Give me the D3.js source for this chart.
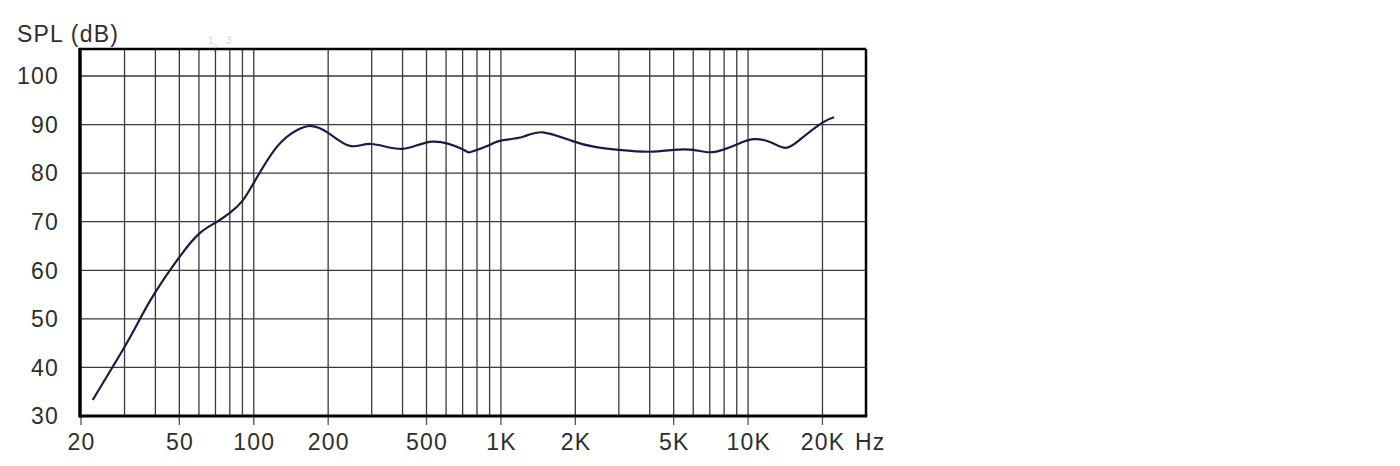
<!DOCTYPE html>
<html><head><meta charset="utf-8">
<script src="https://cdn.jsdelivr.net/npm/d3@7"></script>
<style>
html,body{margin:0;padding:0;background:#fff;}
svg{display:block;}
text{font-family:"Liberation Sans",Arial,sans-serif;fill:#2e2e2e;letter-spacing:1.2px;}
</style></head>
<body>
<svg id="chart" width="1400" height="466"></svg>
<script>
// Data
const freqs = [22.3, 30, 34.5, 40, 50, 60, 70, 80, 90, 100, 124, 150, 171, 200, 245, 300, 400, 530, 700, 760, 900, 1000, 1230, 1476, 1950, 2400, 3000, 4000, 5000, 6000, 7000, 8000, 9000, 10500, 12400, 14200, 16300, 20000, 22300];
const spl = [33.3, 44.2, 49.8, 55.5, 62.7, 67.5, 69.8, 71.8, 74.3, 78.0, 85.4, 88.9, 89.7, 88.3, 85.6, 86.0, 85.0, 86.5, 84.9, 84.4, 85.8, 86.7, 87.5, 88.4, 86.6, 85.4, 84.8, 84.4, 84.8, 84.8, 84.3, 84.9, 85.9, 87.0, 86.3, 85.2, 87.0, 90.4, 91.5];
const yTicks = [30, 40, 50, 60, 70, 80, 90, 100];
const xGrid = [30, 40, 50, 60, 70, 80, 90, 100, 200, 300, 400, 500, 600, 700, 800, 900, 1000, 2000, 3000, 4000, 5000, 6000, 7000, 8000, 9000, 10000, 20000];
const xTicks = [20, 50, 100, 200, 500, 1000, 2000, 5000, 10000, 20000];
const xTickLabels = ["20", "50", "100", "200", "500", "1K", "2K", "5K", "10K", "20K"];

(function () {
const svg = d3.select("#chart");
const mLeft = 81, mRight = 866, mBottom = 416, mTop = 49;
const x = d3.scaleLog().domain([20, 30000]).range([mLeft, mRight]);
const y = d3.scaleLinear().domain([30, 100]).range([mBottom, 76]);

// faint artifacts near top
svg.append("text").attr("x", 208).attr("y", 44).attr("font-size", 10).style("fill", "#d6d6d6").text("1");
svg.append("text").attr("x", 226).attr("y", 44).attr("font-size", 10).style("fill", "#d6d6d6").text("3");
svg.append("text").attr("x", 213).attr("y", 52).attr("font-size", 10).style("fill", "#e2e2e2").text("2");

// grid
const g = svg.append("g");
g.selectAll(".vg").data(xGrid).enter().append("line")
  .attr("x1", d => x(d)).attr("x2", d => x(d))
  .attr("y1", mTop).attr("y2", mBottom)
  .attr("stroke", "#3a3a3a").attr("stroke-width", 1.3);
g.selectAll(".hg").data(yTicks.filter(d => d > 30)).enter().append("line")
  .attr("x1", mLeft).attr("x2", mRight)
  .attr("y1", d => y(d)).attr("y2", d => y(d))
  .attr("stroke", "#3a3a3a").attr("stroke-width", 1.3);

// x axis tick marks below frame
g.selectAll(".xt").data(xTicks).enter().append("line")
  .attr("x1", d => x(d)).attr("x2", d => x(d))
  .attr("y1", mBottom).attr("y2", mBottom + 9)
  .attr("stroke", "#555").attr("stroke-width", 1.3);

// frame
svg.append("line").attr("x1", mLeft).attr("x2", mRight).attr("y1", mTop).attr("y2", mTop).attr("stroke", "#000").attr("stroke-width", 2.5);
svg.append("line").attr("x1", mRight).attr("x2", mRight).attr("y1", mTop).attr("y2", mBottom).attr("stroke", "#000").attr("stroke-width", 2.5);
svg.append("line").attr("x1", mLeft - 1.5).attr("x2", mRight + 1.25).attr("y1", mBottom).attr("y2", mBottom).attr("stroke", "#000").attr("stroke-width", 3);
svg.append("line").attr("x1", mLeft - 1).attr("x2", mLeft - 1).attr("y1", mTop - 1.25).attr("y2", mBottom + 1.5).attr("stroke", "#000").attr("stroke-width", 3.5);

// curve
const line = d3.line().x((d, i) => x(freqs[i])).y(d => y(d)).curve(d3.curveNatural);
svg.append("path").datum(spl).attr("d", line)
  .attr("fill", "none").attr("stroke", "#1c1a4a").attr("stroke-width", 2.2);

// y labels
svg.selectAll(".yl").data(yTicks).enter().append("text")
  .attr("x", 59).attr("y", d => y(d)).attr("dy", "0.36em")
  .attr("text-anchor", "end").attr("font-size", 23).text(d => d);

// x labels
svg.selectAll(".xl").data(xTicks).enter().append("text")
  .attr("x", d => x(d) + 0.6).attr("y", 450)
  .attr("text-anchor", "middle").attr("font-size", 23).text((d, i) => xTickLabels[i]);
svg.append("text").attr("x", 855).attr("y", 450).attr("font-size", 23).text("Hz");

// y title
svg.append("text").attr("x", 17).attr("y", 42).attr("font-size", 23).text("SPL (dB)");
})();
</script>
</body></html>
